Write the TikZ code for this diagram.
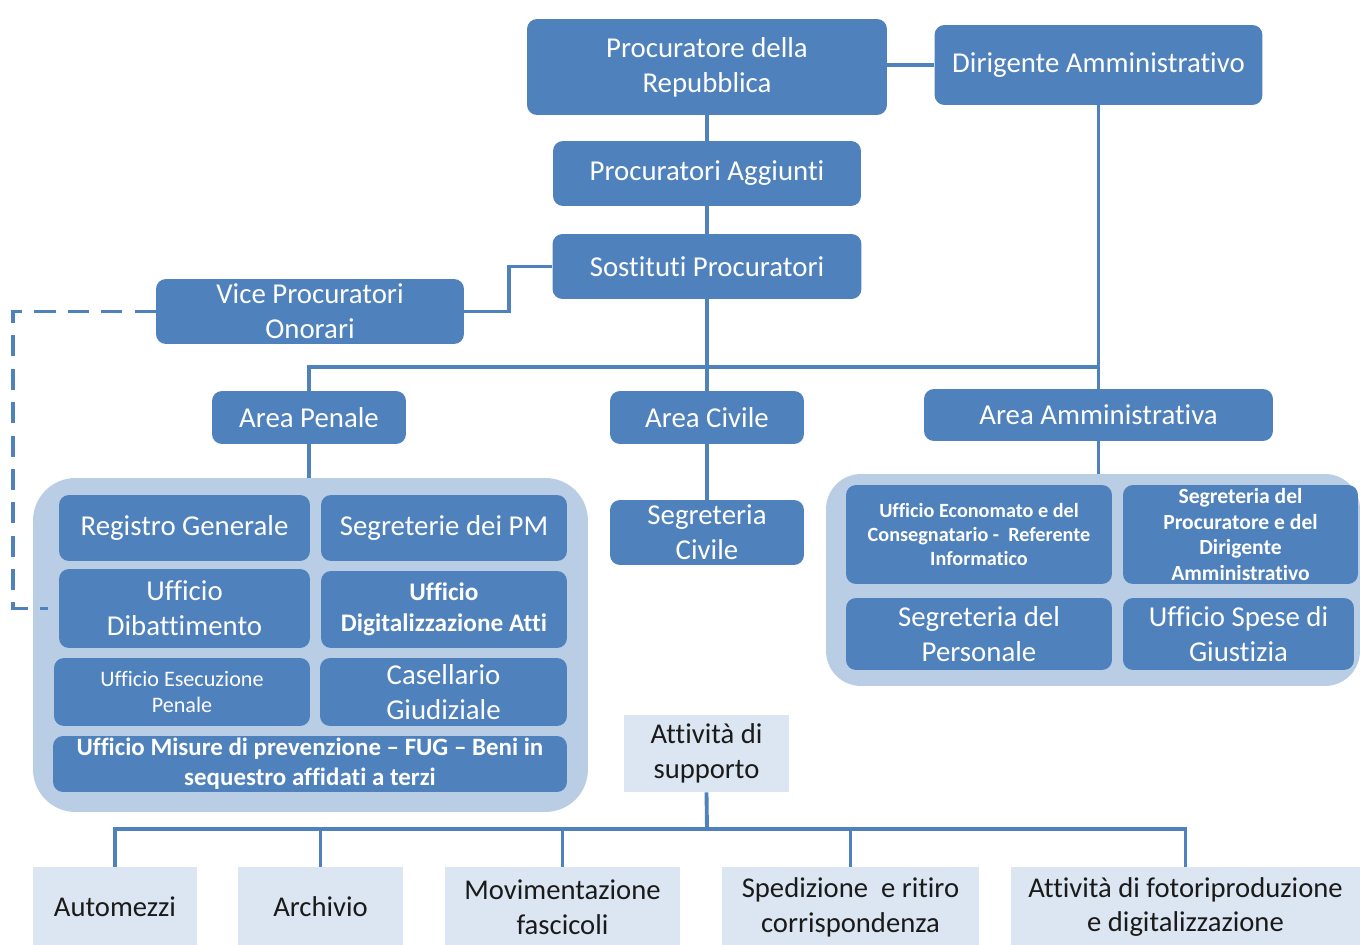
\documentclass[tikz,border=0pt]{standalone}
\usepackage{fontspec}
\setmainfont{Carlito}[Ligatures=NoCommon]
\usetikzlibrary{calc}
\definecolor{boxblue}{HTML}{4F81BD}
\definecolor{groupblue}{HTML}{B9CDE5}
\definecolor{paleblue}{HTML}{DCE6F2}
\definecolor{inkdark}{HTML}{1A1A1A}

\begin{document}
\begin{tikzpicture}[x=0.02cm,y=-0.02cm,
	office/.style={fill=boxblue,rounded corners=0.2cm,text=white,align=center,inner sep=0pt,
	  font=\fontsize{16.4}{19.8}\selectfont},
	group/.style={fill=groupblue,rounded corners=0.85cm,inner sep=0pt},
	support/.style={fill=paleblue,text=inkdark,align=center,inner sep=0pt,
	  font=\fontsize{16.3}{19.8}\selectfont},
	smallbold/.style={font=\fontsize{11.5}{13.6}\selectfont\bfseries},
	conn/.style={draw=boxblue,line width=2.2pt},
	dashconn/.style={conn,dash pattern=on 12pt off 7pt}]
    \useasboundingbox (0,0) rectangle (1360,945);
    % top of the office
    \node[office,minimum width=7.2cm,minimum height=1.92cm] (proc) at (707,67) {Procuratore della\\Repubblica};
    \node[office,minimum width=6.56cm,minimum height=1.6cm] (dir) at (1098.5,65) {Dirigente Amministrativo};
    \node[office,minimum width=6.16cm,minimum height=1.3cm] (agg) at (707,173.5) {Procuratori Aggiunti};
    \node[office,minimum width=6.18cm,minimum height=1.3cm] (sost) at (707,266.5) {Sostituti Procuratori};
    \node[office,minimum width=6.16cm,minimum height=1.3cm] (vice) at (310,311.5) {Vice Procuratori\\Onorari};
    % areas
    \node[office,minimum width=3.88cm,minimum height=1.06cm] (penale) at (309,417.5) {Area Penale};
    \node[office,minimum width=3.88cm,minimum height=1.06cm] (civile) at (707,417.5) {Area Civile};
    \node[office,minimum width=6.98cm,minimum height=1.04cm] (ammin) at (1098.5,415) {Area Amministrativa};
    \node[office,minimum width=3.88cm,minimum height=1.3cm] (segciv) at (707,532.5) {Segreteria\\Civile};
    % penal group
    \node[group,minimum width=11.1cm,minimum height=6.68cm] (penbg) at (310.5,645) {};
    \node[office,minimum width=5.02cm,minimum height=1.32cm] (reg) at (184.5,528) {Registro Generale};
    \node[office,minimum width=4.92cm,minimum height=1.32cm] (segpm) at (444,528) {Segreterie dei PM};
    \node[office,minimum width=5.02cm,minimum height=1.58cm] (dib) at (184.5,608.5) {Ufficio\\Dibattimento};
    \node[office,minimum width=4.92cm,minimum height=1.54cm,font=\fontsize{14.4}{17.6}\selectfont\bfseries] (digit) at (444,609.5) {Ufficio\\Digitalizzazione Atti};
    \node[office,minimum width=5.12cm,minimum height=1.36cm,font=\fontsize{12.6}{14.7}\selectfont] (esec) at (182,692) {Ufficio Esecuzione\\Penale};
    \node[office,minimum width=4.94cm,minimum height=1.36cm] (cas) at (443.5,692) {Casellario\\Giudiziale};
    \node[office,minimum width=10.28cm,minimum height=1.12cm,font=\fontsize{14.2}{17}\selectfont\bfseries] (misure) at (310,764) {Ufficio Misure di prevenzione – FUG – Beni in\\sequestro affidati a terzi};
    % administrative group
    \node[group,minimum width=10.68cm,minimum height=4.24cm,rounded corners=0.7cm] (ambg) at (1093,580) {};
    \node[office,smallbold,minimum width=5.32cm,minimum height=1.98cm] (econ) at (979,534.5) {Ufficio Economato e del\\Consegnatario -\ \ Referente\\Informatico};
    \node[office,minimum width=4.7cm,minimum height=1.98cm,font=\fontsize{12.3}{14.7}\selectfont\bfseries] (segproc) at (1240.5,534.5) {Segreteria del\\Procuratore e del\\Dirigente\\Amministrativo};
    \node[office,minimum width=5.32cm,minimum height=1.44cm] (pers) at (979,634) {Segreteria del\\Personale};
    \node[office,minimum width=4.62cm,minimum height=1.44cm] (spese) at (1238.5,634) {Ufficio Spese di\\Giustizia};
    % support activities
    \node[support,minimum width=3.3cm,minimum height=1.54cm] (supp) at (706.5,753.5) {Attività di\\supporto};
    \node[support,minimum width=3.28cm,minimum height=1.6cm] (auto) at (115,907) {Automezzi};
    \node[support,minimum width=3.3cm,minimum height=1.6cm] (arch) at (320.5,907) {Archivio};
    \node[support,minimum width=4.7cm,minimum height=1.6cm] (mov) at (562.5,907) {Movimentazione\\fascicoli};
    \node[support,minimum width=5.14cm,minimum height=1.6cm] (sped) at (850.5,907) {Spedizione\ \ e ritiro\\corrispondenza};
    \node[support,minimum width=6.98cm,minimum height=1.6cm] (foto) at (1185.5,907) {Attività di fotoriproduzione\\e digitalizzazione};
    \coordinate (bus) at (707,367);
    \coordinate (bus2) at (707,829);
    % connectors
    \draw[conn] (proc) -- (agg);
    \draw[conn] (agg) -- (sost);
    \draw[conn] (proc.east |- dir.west) -- (dir.west);
    \draw[conn] (dir.south) -- (ammin.north);
    \draw[conn] (sost.south) -- (civile.north);
    \draw[conn] (penale.north) |- (bus) -- (bus -| dir.south);
    \draw[conn] (sost.west) -- ++(-43,0) |- (vice.east);
    \draw[dashconn] (vice.west) -- ++(-143,0) |- ([xshift=0.3cm]penbg.west |- dib.west);
    \draw[conn] (penale.south) -- (penale.south |- penbg.north);
    \draw[conn] (civile.south) -- (segciv.north);
    \draw[conn] (ammin.south) -- (ammin.south |- ambg.north);
    \draw[conn] (supp.south) -- (bus2);
    \foreach \b in {auto,arch,mov,sped,foto}
      \draw[conn] (\b.north) |- (bus2);
  \end{tikzpicture}
\end{document}
